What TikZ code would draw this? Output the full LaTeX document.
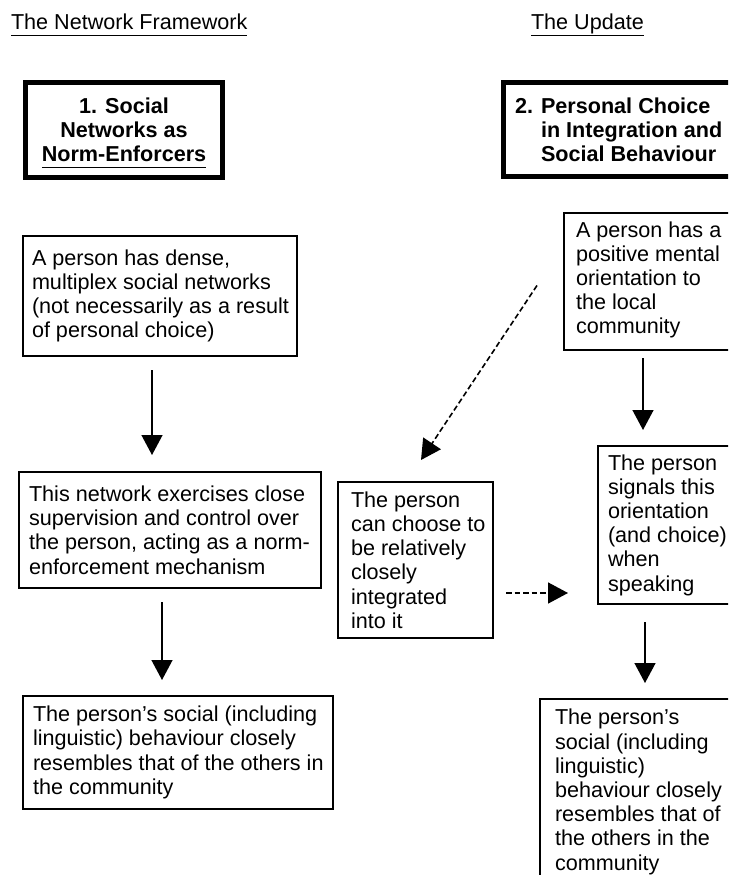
\documentclass[tikz,border=0pt]{standalone}
\usepackage{fontspec}
\setmainfont{Liberation Sans}
\usetikzlibrary{arrows.meta}

% underlined word with a rule that does not change the line's depth
\newcommand{\undl}[1]{\leavevmode\setbox0=\hbox{#1}\rlap{\smash{\rule[-6.2pt]{\wd0}{1.4pt}}}\box0}

\begin{document}
\begin{tikzpicture}[x=1pt, y=-1pt,
  every node/.style={font=\fontsize{21.6}{24.2}\selectfont, outer sep=0pt},
  boxframe/.style={draw, line width=1.4pt, inner sep=0pt, anchor=north west},
  headframe/.style={draw, line width=5pt, inner sep=0pt, anchor=north west},
  body/.style={align=left, inner sep=0pt, anchor=west},
  head/.style={inner sep=0pt, font=\fontsize{21.6}{24}\selectfont\bfseries},
  link/.style={line width=1.4pt, -{Triangle[length=20pt, width=21pt]}},
  dashlink/.style={link, line width=1.6pt, dash pattern=on 5.5pt off 3pt},
]
\useasboundingbox (0,0) rectangle (728,875);
\fill[white] (0,0) rectangle (728,875);
\clip (0,0) rectangle (728,875);

% column headings
\node[anchor=base west, inner sep=0pt] (t1) at (11,30) {\undl{The Network Framework}};
\node[anchor=base west, inner sep=0pt] (t2) at (531,30) {\undl{The Update}};

% heading boxes
\node[headframe, minimum width=197.6pt, minimum height=95pt] (h1) at (25.2,82.5) {};
\node[head, align=center] (h1t) at (h1.center) {1. Social\\Networks as\\\undl{Norm-Enforcers}};

\node[headframe, minimum width=250pt, minimum height=94pt] (h2) at (503.2,82.5) {};
\node[head, align=left, anchor=west] (h2t) at ([shift={(11.8,0)}]h2.west)
  {2. Personal Choice\\\hphantom{2. }in Integration and\\\hphantom{2. }Social Behaviour};

% left column
\node[boxframe, minimum width=274pt, minimum height=120pt] (A) at (23,236) {};
\node[body] (At) at ([shift={(9,0)}]A.west)
  {A person has dense,\\multiplex social networks\\(not necessarily as a result\\of personal choice)};

\node[boxframe, minimum width=302pt, minimum height=116pt] (B) at (19,472) {};
\node[body] (Bt) at ([shift={(10,0)}]B.west)
  {This network exercises close\\supervision and control over\\the person, acting as a norm-\\enforcement mechanism};

\node[boxframe, minimum width=310pt, minimum height=113pt] (C) at (23,696) {};
\node[body] (Ct) at ([shift={(10,0)}]C.west)
  {The person's social (including\\linguistic) behaviour closely\\resembles that of the others in\\the community};

% middle box
\node[boxframe, minimum width=155pt, minimum height=156pt] (M) at (338,482) {};
\node[body] (Mt) at ([shift={(13,0)}]M.west)
  {The person\\can choose to\\be relatively\\closely\\integrated\\into it};

% right column
\node[boxframe, minimum width=200pt, minimum height=137pt] (R1) at (564,213) {};
\node[body] (R1t) at ([shift={(12,-1.5)}]R1.west)
  {A person has a\\positive mental\\orientation to\\the local\\community};

\node[boxframe, minimum width=200pt, minimum height=158pt] (R2) at (598,446) {};
\node[body] (R2t) at ([shift={(10,0)}]R2.west)
  {The person\\signals this\\orientation\\(and choice)\\when\\speaking};

\node[boxframe, minimum width=250pt, minimum height=186pt] (R3) at (540,699) {};
\node[body] (R3t) at ([shift={(15,0)}]R3.west)
  {The person's\\social (including\\linguistic)\\behaviour closely\\resembles that of\\the others in the\\community};

% arrow columns
\coordinate (cA) at (152,0);
\coordinate (cB) at (162,0);
\coordinate (cR1) at (643,0);
\coordinate (cR2) at (645,0);
\coordinate (dh) at (0,593);

\draw[link, shorten <=14pt, shorten >=17pt] (A.south -| cA) -- (B.north -| cA);
\draw[link, shorten <=14pt, shorten >=16pt] (B.south -| cB) -- (C.north -| cB);
\draw[link, shorten <=8pt, shorten >=16pt] (R1.south -| cR1) -- (R2.north -| cR1);
\draw[link, shorten <=18pt, shorten >=16pt] (R2.south -| cR2) -- (R3.north -| cR2);

\draw[dashlink] ([shift={(-27,4)}]R1.west) -- ([shift={(5.5,-22)}]M.north);
\draw[dashlink, shorten <=13pt, shorten >=30pt] (M.east |- dh) -- (R2.west |- dh);
\end{tikzpicture}
\end{document}
